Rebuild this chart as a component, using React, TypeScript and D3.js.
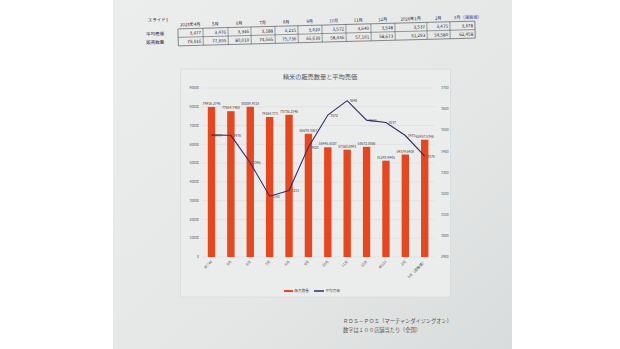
import React from "react";
import * as d3 from "d3";

const categories = ["45748", "5月", "6月", "7月", "8月", "9月", "10月", "11月", "12月", "46023", "2月", "3月（速報値）"];
const tableHeaders = ["2025年4月", "5月", "6月", "7月", "8月", "9月", "10月", "11月", "12月", "2026年1月", "2月", "3月（速報値）"];
const salesQty = [79916.2746, 77654.7468, 80009.9318, 74564.773, 75736.2346, 65639.3067, 58445.6107, 57160.8993, 58672.8866, 51293.4945, 54579.6408, 62457.5346];
const avgPrice = [3477, 3476, 3346, 3188, 3215, 3420, 3572, 3640, 3548, 3537, 3475, 3378];
const leftTicks = [0, 10000, 20000, 30000, 40000, 50000, 60000, 70000, 80000, 90000];
const rightTicks = [2900, 3000, 3100, 3200, 3300, 3400, 3500, 3600, 3700];
const colWidths = [25, 25, 23, 24, 23, 24, 24, 25, 24, 32, 23, 25];
const seriesNames = ["販売数量", "平均売価"];

const FONT = "'Noto Sans CJK JP', 'Noto Sans', sans-serif";
const BAR = "#e8461c";
const LINE = "#2e2b6c";

export default function App() {
  const W = 620, H = 349;
  const plotL = 201.8, plotR = 434.4, plotT = 88, plotB = 257;
  const x = d3.scaleBand<string>().domain(categories).range([plotL, plotR]).paddingInner(0.62).paddingOuter(0.31);
  const yL = d3.scaleLinear().domain([0, 90000]).range([plotB, plotT]);
  const yR = d3.scaleLinear().domain([2900, 3700]).range([plotB, plotT]);
  const cx = (c: string) => (x(c) as number) + x.bandwidth() / 2;
  const line = d3.line<number>().x((_, i) => cx(categories[i])).y((d) => yR(d));

  // table
  const tX0 = 178, tY0 = 25, rowH = 8.5;
  const edges = [tX0];
  colWidths.forEach((w) => edges.push(edges[edges.length - 1] + w));
  const fmt = d3.format(",");

  return (
    <svg width={W} height={H} style={{ position: "absolute", left: 0, top: 0 }} fontFamily={FONT}>
      <defs>
        <linearGradient id="slide" x1="0" y1="0" x2="1" y2="1">
          <stop offset="0" stopColor="#eceeee" />
          <stop offset="0.6" stopColor="#e5e7e7" />
          <stop offset="1" stopColor="#d9dcdc" />
        </linearGradient>
      </defs>
      <rect x={0} y={0} width={W} height={H} fill="#ffffff" />
      <rect x={113} y={0} width={399} height={H} fill="url(#slide)" />

      {/* table */}
      <g transform="rotate(-1.5 326 30)" fill="#2a2a40">
        <text x={148} y={17} fontSize={4.5}>スライド1</text>
        <text x={146} y={tY0 + 6} fontSize={4.5}>平均売価</text>
        <text x={146} y={tY0 + rowH + 6} fontSize={4.5}>販売数量</text>
        {tableHeaders.map((h, i) => (
          <text key={h} x={i === 11 ? edges[i] + 4 : (edges[i] + edges[i + 1]) / 2} y={tY0 - 2.5} fontSize={4.3}
            textAnchor={i === 11 ? "start" : "middle"} fill={i === 6 || i === 11 ? "#3a3a9a" : "#2a2a40"}>{h}</text>
        ))}
        <rect x={tX0} y={tY0} width={edges[12] - tX0} height={rowH * 2} fill="none" stroke="#444" strokeWidth={0.6} />
        <line x1={tX0} x2={edges[12]} y1={tY0 + rowH} y2={tY0 + rowH} stroke="#444" strokeWidth={0.5} />
        {edges.slice(1, 12).map((e, i) => (
          <line key={i} x1={e} x2={e} y1={tY0} y2={tY0 + rowH * 2} stroke="#444" strokeWidth={0.5} />
        ))}
        {avgPrice.map((v, i) => (
          <text key={"p" + i} x={edges[i + 1] - 2} y={tY0 + 6} fontSize={4.6} textAnchor="end">{fmt(v)}</text>
        ))}
        {salesQty.map((v, i) => (
          <text key={"s" + i} x={edges[i + 1] - 2} y={tY0 + rowH + 6} fontSize={4.6} textAnchor="end">{fmt(Math.round(v))}</text>
        ))}
      </g>

      {/* chart box */}
      <rect x={180.5} y={69} width={270} height={228} fill="#ebeded" stroke="#d3d6d6" strokeWidth={0.6} />
      <text x={320} y={79} fontSize={6.2} textAnchor="middle" fill="#555">精米の販売数量と平均売価</text>

      {leftTicks.map((t) => (
        <g key={"l" + t}>
          <line x1={plotL} x2={plotR} y1={yL(t)} y2={yL(t)} stroke="#d6d8d8" strokeWidth={0.5} />
          <text x={199} y={yL(t) + 1.2} fontSize={3.4} textAnchor="end" fill="#555">{t}</text>
        </g>
      ))}
      {rightTicks.map((t) => (
        <text key={"r" + t} x={441} y={yR(t) + 1.2} fontSize={3.4} fill="#555">{t}</text>
      ))}

      {salesQty.map((v, i) => (
        <rect key={"b" + i} x={x(categories[i])} y={yL(v)} width={x.bandwidth()} height={plotB - yL(v)} fill={BAR} />
      ))}
      {salesQty.map((v, i) => (
        <text key={"bl" + i} x={cx(categories[i])} y={yL(v) - 2} fontSize={3.4} textAnchor="middle" fill="#444">{v}</text>
      ))}

      <path d={line(avgPrice) || ""} fill="none" stroke={LINE} strokeWidth={1.1} />
      {avgPrice.map((v, i) => (
        <text key={"ll" + i} x={cx(categories[i]) + 2.5} y={yR(v) + 1.5} fontSize={3.4} fill="#444">{v}</text>
      ))}

      {categories.map((c) => (
        <text key={"x" + c} transform={`translate(${cx(c) + 1},${plotB + 5}) rotate(-45)`} fontSize={3.6}
          textAnchor="end" fill="#555">{c}</text>
      ))}

      {/* legend */}
      <line x1={284} x2={293} y1={291} y2={291} stroke={BAR} strokeWidth={2} />
      <text x={294.5} y={292.3} fontSize={3.6} fill="#555">{seriesNames[0]}</text>
      <line x1={314} x2={324} y1={291} y2={291} stroke={LINE} strokeWidth={1.5} />
      <text x={325.5} y={292.3} fontSize={3.6} fill="#555">{seriesNames[1]}</text>

      {/* footnotes */}
      <text x={343} y={323} fontSize={5.2} fill="#555">ＲＤＳ－ＰＯＳ（マーチャンダイジングオン）</text>
      <text x={343} y={332} fontSize={5.2} fill="#555">数字は１００店舗当たり（全国）</text>
    </svg>
  );
}
